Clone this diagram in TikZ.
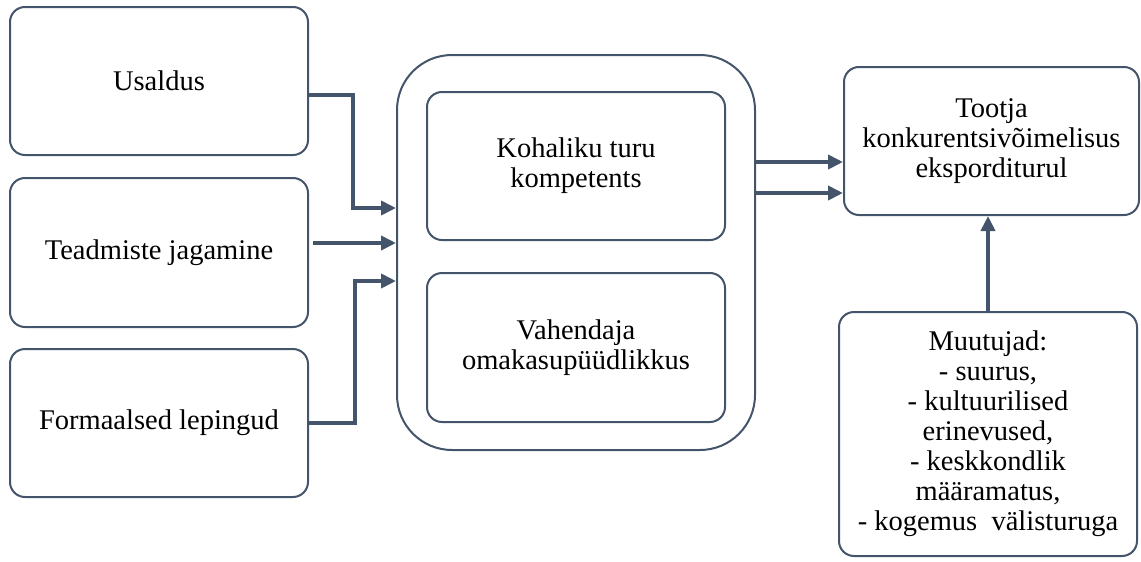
\documentclass[tikz,border=0pt]{standalone}
\usepackage{fontspec}
\setmainfont{LiberationSerif}[Extension=.ttf, UprightFont=*-Regular, BoldFont=*-Bold]
\usetikzlibrary{arrows.meta}
\definecolor{slate}{HTML}{44546A}
\tikzset{
  box/.style={draw=slate, line width=2pt, rounded corners=15pt, align=center,
    inner sep=0pt, font=\fontsize{28.5}{30}\selectfont, text=black},
  arr/.style={draw=slate, line width=4pt, -{Triangle[length=15pt,width=14pt]}}
}
\begin{document}
\begin{tikzpicture}[x=1pt,y=-1pt]
\useasboundingbox (0,0) rectangle (1141,562);

% left-hand factors
\node[box, minimum width=298pt, minimum height=148pt] (us) at (159,81) {Usaldus};
\node[box, minimum width=298pt, minimum height=149pt] (td) at (159,252.5) {Teadmiste jagamine};
\node[box, minimum width=298pt, minimum height=148pt] (fl) at (159,423) {Formaalsed lepingud};

% central group with two inner boxes
\node[box, rounded corners=55pt, minimum width=358pt, minimum height=395pt] (outer) at (576,252.5) {};
\node[box, minimum width=298pt, minimum height=148pt] (kt) at (576,166) {Kohaliku turu\\kompetents};
\node[box, minimum width=298pt, minimum height=149pt] (vo) at (576,347.5) {Vahendaja\\omakasupüüdlikkus};

% outcome and moderators
\node[box, minimum width=295pt, minimum height=148pt] (tc) at (991.5,141) {Tootja\\konkurentsivõimelisus\\eksporditurul};
\node[box, minimum width=298pt, minimum height=244pt] (mu) at (988,434) {Muutujad:\\- suurus,\\- kultuurilised\\erinevused,\\- keskkondlik\\määramatus,\\- kogemus\ \ välisturuga};

% arrow rows
\coordinate (usout) at ([yshift=-14pt]us.east);
\coordinate (usin) at ([yshift=44.5pt]outer.west);
\coordinate (tdout) at ([xshift=4pt,yshift=9.5pt]td.east);
\coordinate (tdin) at ([yshift=9.5pt]outer.west);
\coordinate (flin) at ([yshift=-28.5pt]outer.west);
\coordinate (r1) at ([yshift=90.5pt]outer.east);
\coordinate (r2) at ([yshift=59.5pt]outer.east);

\draw[arr] (usout) -| (353,208) -- (usin);
\draw[arr] (tdout) -- (tdin);
\draw[arr] (fl.east) -| (355,281) -- (flin);
\draw[arr] (r1) -- (r1 -| tc.west);
\draw[arr] (r2) -- (r2 -| tc.west);
\draw[arr] (mu.north) -- (mu.north |- tc.south);
\end{tikzpicture}
\end{document}
